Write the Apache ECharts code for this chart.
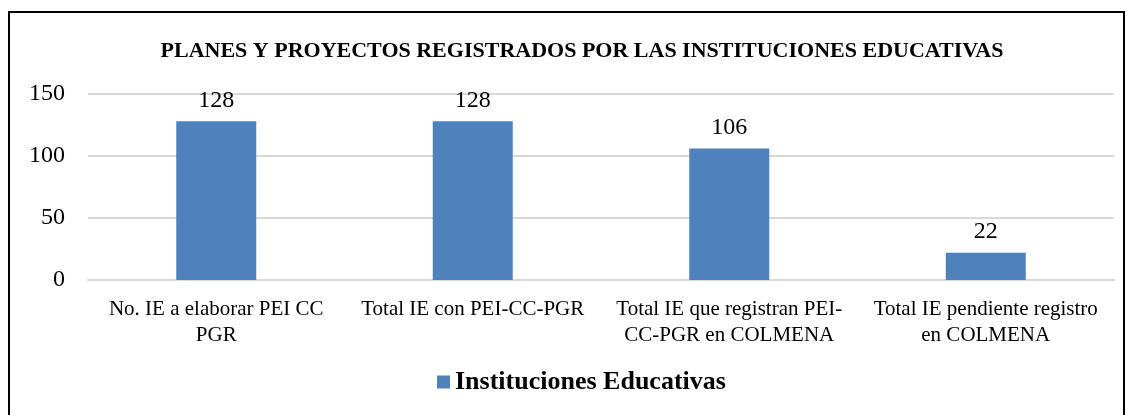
<!DOCTYPE html>
<html>
<head>
<meta charset="utf-8">
<script src="https://cdn.jsdelivr.net/npm/echarts@6/dist/echarts.min.js"></script>
<style>
  html, body { margin: 0; padding: 0; background: #fff; }
  #frame { position: absolute; left: 8px; top: 11px; width: 1117px; height: 420px; border: 2px solid #000; box-sizing: border-box; }
  #chart { position: absolute; left: 0; top: 0; width: 1129px; height: 415px; }
</style>
</head>
<body>
<div id="frame"></div>
<div id="chart"></div>
<script>
const categories = [
  'No. IE a elaborar PEI CC\nPGR',
  'Total IE con PEI-CC-PGR',
  'Total IE que registran PEI-\nCC-PGR en COLMENA',
  'Total IE pendiente registro\nen COLMENA'
]
const seriesName = 'Instituciones Educativas'
const values = [128, 128, 106, 22]

const font = '"Liberation Serif", serif'

const chart = echarts.init(document.getElementById('chart'))
chart.setOption({
  animation: false,
  textStyle: { fontFamily: font },
  title: {
    text: 'PLANES Y PROYECTOS REGISTRADOS POR LAS INSTITUCIONES EDUCATIVAS',
    left: 577,
    textAlign: 'center',
    top: 35,
    textStyle: { fontFamily: font, fontWeight: 'bold', fontSize: 22, color: '#000' }
  },
  legend: {
    bottom: 15,
    left: 432,
    itemWidth: 13,
    itemHeight: 13,
    itemGap: 5,
    icon: 'rect',
    textStyle: { fontFamily: font, fontWeight: 'bold', fontSize: 26, color: '#000' },
    data: [seriesName]
  },
  grid: {
    left: 88,
    right: 15,
    top: 94,
    bottom: 135,
    containLabel: false
  },
  xAxis: {
    type: 'category',
    data: categories,
    axisLine: { show: true, lineStyle: { color: '#d9d9d9', width: 2 } },
    axisTick: { show: false },
    axisLabel: { fontFamily: font, fontSize: 21, color: '#000', margin: 16, lineHeight: 26, interval: 0 }
  },
  yAxis: {
    type: 'value',
    min: 0,
    max: 150,
    interval: 50,
    axisLine: { show: false },
    axisTick: { show: false },
    axisLabel: { fontFamily: font, fontSize: 24, color: '#000', margin: 23 },
    splitLine: { lineStyle: { color: '#d9d9d9', width: 2 } }
  },
  series: [{
    name: seriesName,
    type: 'bar',
    data: values,
    barWidth: 80,
    itemStyle: { color: '#4f81bd' },
    label: {
      show: true,
      position: 'top',
      distance: 9,
      fontFamily: font,
      fontSize: 24,
      color: '#000'
    }
  }]
})
</script>
</body>
</html>
